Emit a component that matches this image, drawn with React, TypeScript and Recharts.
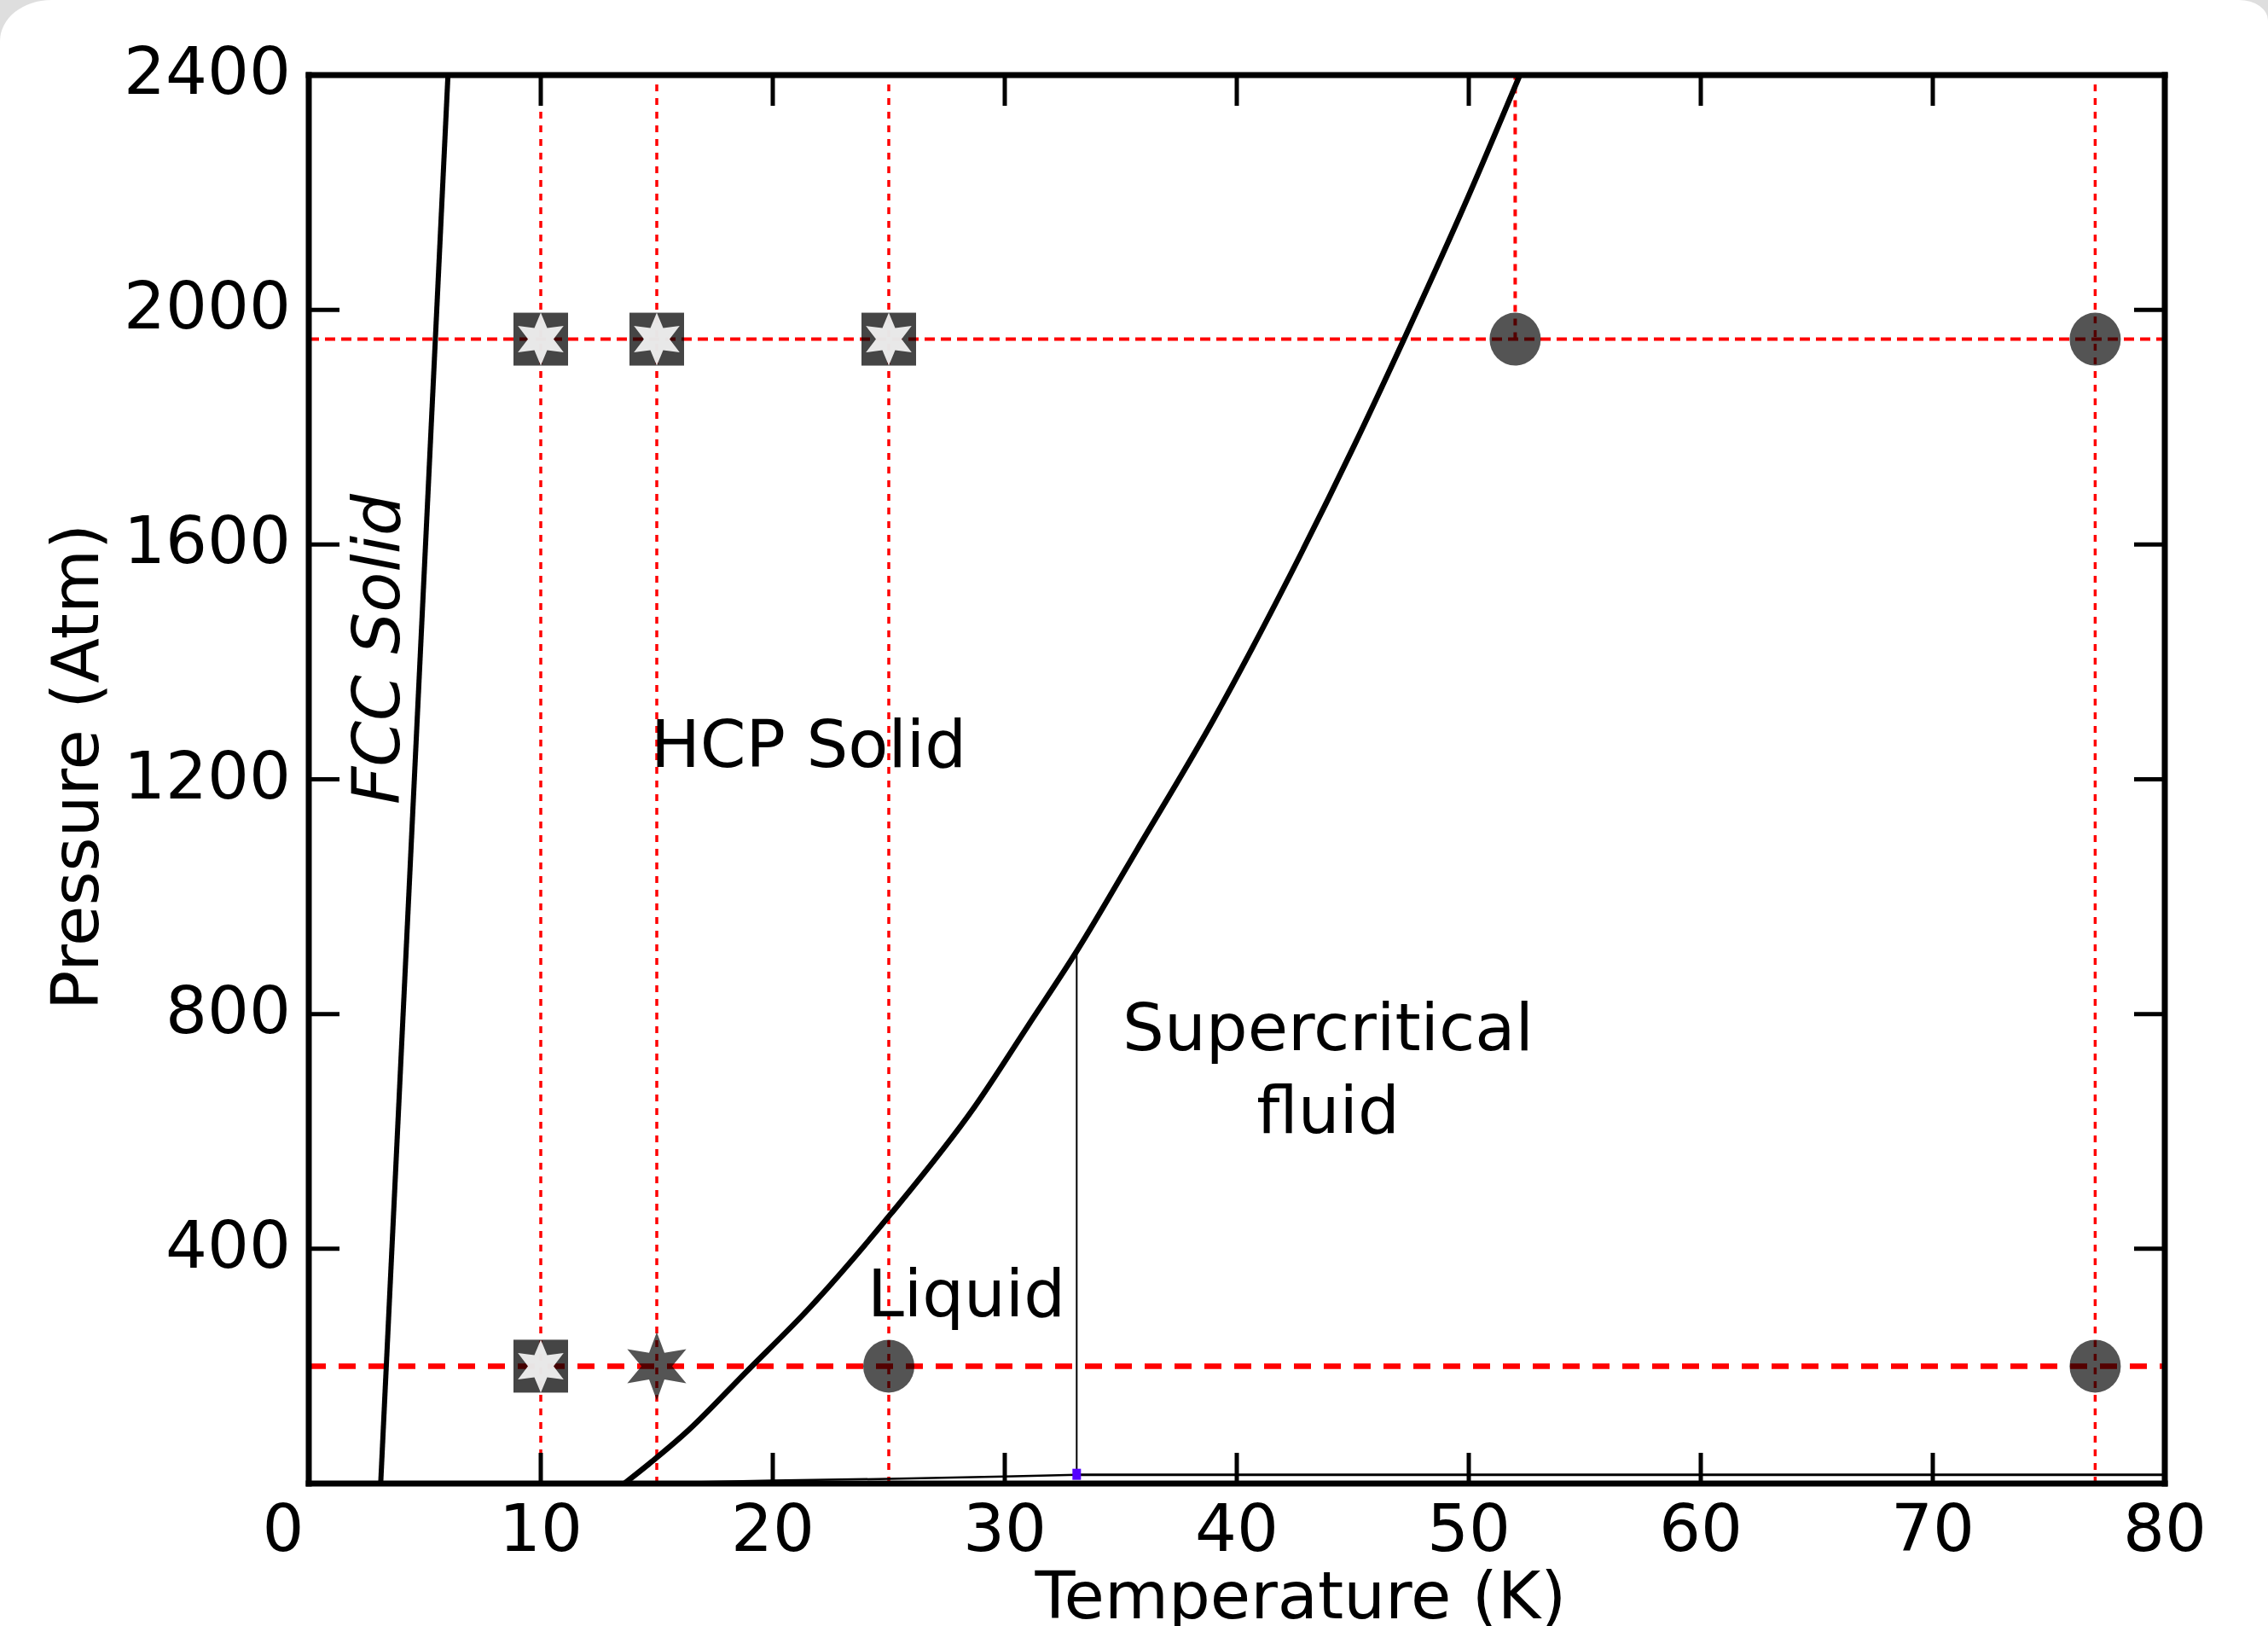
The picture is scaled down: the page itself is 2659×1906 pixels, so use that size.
import React from 'react';
import { ComposedChart, Line, Scatter, XAxis, YAxis } from 'recharts';

const W = 2659;
const H = 1906;
const FONT = '"DejaVu Sans", Verdana, sans-serif';
const FS = 77;
const TICK = 36;

// axes
const xTicks = [0, 10, 20, 30, 40, 50, 60, 70, 80];
const yTicks = [0, 400, 800, 1200, 1600, 2000, 2400];

// phase boundaries, T in K and P in atm
const fccLine = [
  { T: 3.1, P: 0 },
  { T: 6.0, P: 2400 },
];
const meltingLine = [
  { T: 13.6, P: 0 },
  { T: 16.4, P: 92 },
  { T: 18.8, P: 188 },
  { T: 21.6, P: 300 },
  { T: 25.1, P: 460 },
  { T: 28.7, P: 642 },
  { T: 31.0, P: 780 },
  { T: 33.1, P: 907 },
  { T: 35.7, P: 1080 },
  { T: 39.0, P: 1302 },
  { T: 42.3, P: 1548 },
  { T: 45.1, P: 1772 },
  { T: 47.3, P: 1958 },
  { T: 50.0, P: 2195 },
  { T: 52.2, P: 2400 },
];
const vaporLine = [
  { T: 13.6, P: 0 },
  { T: 20, P: 5 },
  { T: 25, P: 8 },
  { T: 30, P: 12 },
  { T: 33.1, P: 15 },
];
const fluidLine = [
  { T: 33.1, P: 15 },
  { T: 80, P: 15 },
];
const criticalLine = [
  { T: 33.1, P: 15 },
  { T: 33.1, P: 907 },
];
const criticalPoint = [{ T: 33.1, P: 15 }];

// red guide lines
const guideTemps = [10, 15, 25, 77];
const guideTempHigh = 52; // drawn only above its marker
const highP = 1950;
const lowP = 200;

// markers
const squareStars = [
  { T: 10, P: 1950 },
  { T: 15, P: 1950 },
  { T: 25, P: 1950 },
  { T: 10, P: 200 },
];
const circles = [
  { T: 52, P: 1950 },
  { T: 77, P: 1950 },
  { T: 25, P: 200 },
  { T: 77, P: 200 },
];
const darkStars = [{ T: 15, P: 200 }];

function starPath(cx: number, cy: number, R: number, r: number) {
  let d = '';
  for (let k = 0; k < 12; k++) {
    const a = ((-90 + k * 30) * Math.PI) / 180;
    const rad = k % 2 === 0 ? R : r;
    d += (k === 0 ? 'M' : 'L') + (cx + rad * Math.cos(a)).toFixed(1) + ',' + (cy + rad * Math.sin(a)).toFixed(1);
  }
  return d + 'Z';
}

const SquareStar = (props: any) => {
  const { cx, cy } = props;
  return (
    <g>
      <rect x={cx - 32} y={cy - 31} width={64} height={62} fill="#000" fillOpacity={0.73} />
      <path d={starPath(cx, cy, 31, 15)} fill="#f2f2f2" fillOpacity={0.94} />
    </g>
  );
};

const Circle = (props: any) => {
  const { cx, cy } = props;
  return <ellipse cx={cx} cy={cy} rx={30} ry={31} fill="#000" fillOpacity={0.67} />;
};

const DarkStar = (props: any) => {
  const { cx, cy } = props;
  return <path d={starPath(cx, cy, 40, 18)} fill="#000" fillOpacity={0.67} />;
};

const CritSquare = (props: any) => {
  const { cx, cy } = props;
  return <rect x={cx - 5} y={cy - 7} width={10} height={13} fill="#5500ff" />;
};

const BottomTick = (props: any) => {
  const { x, y, payload } = props;
  const v = payload.value;
  return (
    <g>
      {v > 0 && v < 80 && <line x1={x} y1={y} x2={x} y2={y - TICK} stroke="#000" strokeWidth={5} />}
      <text x={x + (v === 0 ? -30 : 0)} y={y + 79} textAnchor="middle" fontFamily={FONT} fontSize={FS} fill="#000">
        {v}
      </text>
    </g>
  );
};

const TopTick = (props: any) => {
  const { x, y, payload } = props;
  const v = payload.value;
  if (v <= 0 || v >= 80) return <g />;
  return <line x1={x} y1={y} x2={x} y2={y + TICK} stroke="#000" strokeWidth={5} />;
};

const LeftTick = (props: any) => {
  const { x, y, payload } = props;
  const v = payload.value;
  return (
    <g>
      {v > 0 && v < 2400 && <line x1={x} y1={y} x2={x + TICK} y2={y} stroke="#000" strokeWidth={5} />}
      {v > 0 && (
        <text x={x - 21} y={y + 22} textAnchor="end" fontFamily={FONT} fontSize={FS} fill="#000">
          {v}
        </text>
      )}
    </g>
  );
};

const RightTick = (props: any) => {
  const { x, y, payload } = props;
  const v = payload.value;
  if (v <= 0 || v >= 2400) return <g />;
  return <line x1={x} y1={y} x2={x - TICK} y2={y} stroke="#000" strokeWidth={5} />;
};

const frame = { stroke: '#000', strokeWidth: 7, strokeLinecap: 'square' as const };

export default function App() {
  const common = { xAxisId: 'b', yAxisId: 'l', dataKey: 'P', dot: false, activeDot: false, isAnimationActive: false, type: 'linear' as const };
  return (
    <div style={{ position: 'absolute', left: 0, top: 0, width: W, height: H, background: '#dedede', overflow: 'hidden' }}>
      <div
        style={{
          position: 'absolute',
          inset: 0,
          background: '#fff',
          borderTopLeftRadius: '60px 48px',
          borderTopRightRadius: '34px 24px',
        }}
      />
      <div style={{ position: 'absolute', left: 0, top: 0 }}>
        <ComposedChart width={W} height={H} margin={{ top: 0, right: 0, bottom: 0, left: 0 }}>
          <XAxis
            xAxisId="b"
            dataKey="T"
            type="number"
            domain={[0, 80]}
            ticks={xTicks}
            allowDataOverflow
            height={167}
            tickSize={0}
            tickMargin={0}
            tickLine={false}
            axisLine={frame}
            tick={<BottomTick />}
            interval={0}
          />
          <XAxis
            xAxisId="t"
            orientation="top"
            dataKey="T"
            type="number"
            domain={[0, 80]}
            ticks={xTicks}
            allowDataOverflow
            height={88}
            tickSize={0}
            tickMargin={0}
            tickLine={false}
            axisLine={frame}
            tick={<TopTick />}
            interval={0}
          />
          <YAxis
            yAxisId="l"
            dataKey="P"
            type="number"
            domain={[0, 2400]}
            ticks={yTicks}
            allowDataOverflow
            width={362}
            tickSize={0}
            tickMargin={0}
            tickLine={false}
            axisLine={frame}
            tick={<LeftTick />}
            interval={0}
          />
          <YAxis
            yAxisId="r"
            orientation="right"
            dataKey="P"
            type="number"
            domain={[0, 2400]}
            ticks={yTicks}
            allowDataOverflow
            width={121}
            tickSize={0}
            tickMargin={0}
            tickLine={false}
            axisLine={frame}
            tick={<RightTick />}
            interval={0}
          />

          {guideTemps.map((t) => (
            <Line
              key={'gv' + t}
              {...common}
              data={[
                { T: t, P: 0 },
                { T: t, P: 2400 },
              ]}
              stroke="#ff0000"
              strokeWidth={3.5}
              strokeDasharray="8 8"
            />
          ))}
          <Line
            {...common}
            data={[
              { T: guideTempHigh, P: highP },
              { T: guideTempHigh, P: 2400 },
            ]}
            stroke="#ff0000"
            strokeWidth={4}
            strokeDasharray="8 8"
          />
          <Line
            {...common}
            data={[
              { T: 0, P: highP },
              { T: 80, P: highP },
            ]}
            stroke="#ff0000"
            strokeWidth={4}
            strokeDasharray="12 7"
          />
          <Line
            {...common}
            data={[
              { T: 0, P: lowP },
              { T: 80, P: lowP },
            ]}
            stroke="#ff0000"
            strokeWidth={6.5}
            strokeDasharray="20 15"
          />

          <Line {...common} data={vaporLine} stroke="#000" strokeWidth={2.5} />
          <Line {...common} data={fluidLine} stroke="#000" strokeWidth={3} />
          <Line {...common} data={criticalLine} stroke="#000" strokeWidth={2} />
          <Line {...common} data={fccLine} stroke="#000" strokeWidth={6} />
          <Line {...common} type="monotone" data={meltingLine} stroke="#000" strokeWidth={6.5} />

          <Scatter xAxisId="b" yAxisId="l" data={criticalPoint} shape={<CritSquare />} isAnimationActive={false} />
          <Scatter xAxisId="b" yAxisId="l" data={squareStars} shape={<SquareStar />} isAnimationActive={false} />
          <Scatter xAxisId="b" yAxisId="l" data={circles} shape={<Circle />} isAnimationActive={false} />
          <Scatter xAxisId="b" yAxisId="l" data={darkStars} shape={<DarkStar />} isAnimationActive={false} />
        </ComposedChart>
      </div>
      <svg width={W} height={H} style={{ position: 'absolute', left: 0, top: 0, pointerEvents: 'none' }}>
        <g fontFamily={FONT} fontSize={FS} fill="#000">
          <text x={948} y={899} textAnchor="middle">
            HCP Solid
          </text>
          <text x={1133} y={1543} textAnchor="middle">
            Liquid
          </text>
          <text x={1557} y={1231} textAnchor="middle">
            Supercritical
          </text>
          <text x={1557} y={1328} textAnchor="middle">
            fluid
          </text>
          <text transform="translate(468,761) rotate(-90)" textAnchor="middle" fontStyle="italic">
            FCC Solid
          </text>
          <text transform="translate(115,899) rotate(-90)" textAnchor="middle">
            Pressure (Atm)
          </text>
          <text x={1525} y={1897} textAnchor="middle">
            Temperature (K)
          </text>
        </g>
      </svg>
    </div>
  );
}
